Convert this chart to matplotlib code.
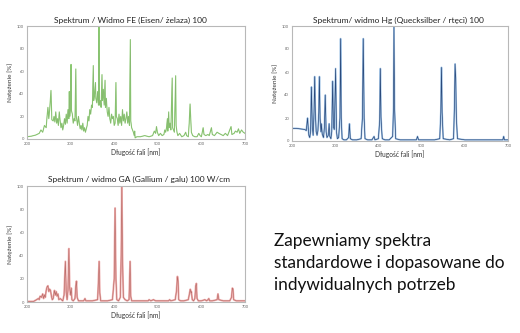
import matplotlib
matplotlib.use('Agg')
import matplotlib.pyplot as plt

plt.rcParams['font.family'] = ['Lato', 'DejaVu Sans']

W, H = 520, 333

# Fe spectrum (wavelength nm, intensity %)
fe_wl = [200, 210, 220, 228, 232, 236, 240, 244, 246, 248, 250, 252, 255, 257, 260, 262, 264, 266, 268, 270,
         272, 274, 276, 278, 280, 282, 284, 286, 288, 290, 292, 294, 296, 297, 298, 300, 301, 302, 304, 306,
         308, 310, 312, 313, 316, 318, 320, 322, 324, 326, 328, 330, 332, 334, 336, 338, 340, 342, 344, 346,
         348, 350, 352, 353, 355, 357, 358, 360, 362, 364, 365, 366, 368, 370, 372, 373, 375, 377, 379, 380,
         382, 384, 386, 388, 390, 392, 394, 396, 398, 400, 402, 404, 405, 407, 409, 411, 413, 415, 417, 419,
         421, 423, 425, 427, 429, 431, 433, 435, 437, 438, 440, 442, 444, 446, 447, 448, 452, 460, 470, 480,
         488, 492, 495, 497, 499, 502, 506, 510, 514, 516, 518, 520, 522, 523, 525, 526, 528, 530, 533, 534,
         536, 538, 541, 542, 544, 546, 550, 555, 560, 564, 566, 570, 572, 574, 575, 577, 580, 585, 590, 594,
         597, 600, 604, 606, 610, 615, 618, 623, 625, 630, 636, 640, 645, 650, 655, 660, 668, 670, 675, 678,
         682, 685, 688, 692, 696, 700]
fe_val = [2, 2.5, 3.5, 5, 8, 6, 12, 10, 20, 28, 18, 26, 43, 17, 16, 20, 15, 24, 14, 18,
          12, 24, 16, 10, 14, 8, 12, 18, 13, 22, 14, 26, 18, 42, 20, 30, 66, 25, 22, 14,
          18, 16, 62, 20, 12, 20, 14, 9, 12, 8, 14, 7, 10, 6, 9, 12, 20, 16, 26, 22,
          30, 28, 65, 34, 40, 50, 36, 32, 42, 30, 100, 30, 34, 28, 57, 34, 44, 30, 52, 28,
          36, 24, 20, 28, 18, 14, 22, 18, 20, 12, 14, 50, 20, 18, 12, 22, 14, 20, 12, 26,
          16, 22, 14, 18, 24, 14, 20, 12, 88, 16, 10, 8, 6, 3, 7, 1, 2, 2, 3, 2,
          3, 7, 5, 11, 6, 3, 5, 3, 4, 8, 6, 10, 18, 7, 24, 10, 14, 8, 54, 10,
          8, 6, 56, 12, 6, 3, 5, 2, 3, 6, 3, 2, 14, 31, 22, 6, 3, 2, 2, 5,
          3, 2, 10, 4, 3, 4, 3, 10, 4, 3, 6, 5, 4, 3, 5, 3, 11, 4, 5, 7,
          6, 9, 5, 8, 6, 5]

# Hg spectrum
hg_wl = [200, 210, 220, 230, 233, 236, 237.5, 239, 241, 243, 245, 247, 249, 251, 252.5, 254, 256, 258, 260,
         262, 263.5, 265, 267, 268, 270, 273, 275, 277, 279, 281, 284, 286, 287.5, 290, 292, 294, 296, 298,
         301, 303, 305, 308, 311, 312.5, 314, 316, 320, 326, 331, 333, 335, 340, 350, 360, 363, 365, 367,
         369, 375, 385, 390, 392, 400, 403, 404.5, 406, 407.5, 409, 415, 425, 433, 435, 436, 437.5, 440,
         450, 470, 488, 490.5, 493, 510, 530, 542, 544.5, 546, 547.5, 550, 565, 574, 576, 577.5, 579,
         580.5, 583, 600, 650, 688, 690, 691.5, 700]
hg_val = [11, 11, 10.5, 10, 9, 20, 12, 5, 3, 8, 47, 12, 5, 25, 56, 25, 8, 5, 9,
          25, 56, 20, 8, 15, 6, 3, 12, 40, 8, 3, 5, 15, 4, 2, 8, 52, 12, 10,
          63, 8, 2, 3, 20, 89, 20, 2, 1, 1, 3, 15, 2, 1, 1, 2, 20, 89, 20,
          2, 1, 1, 4, 1, 2, 18, 63, 21, 10, 2, 1, 1, 4, 30, 100, 28, 2,
          1, 1, 1, 4, 1, 1, 1, 2, 25, 64, 25, 2, 1, 2, 30, 67, 55,
          20, 2, 1, 1, 1, 4, 1, 1]

# Ga spectrum
ga_wl = [200, 215, 222, 226, 228, 230, 233, 236, 238, 240, 242, 244, 246, 248, 250, 252, 254, 256, 258, 260,
         263, 265, 267, 269, 271, 273, 276, 279, 282, 285, 288, 290, 292, 294, 296, 298, 300, 301.5, 303, 306,
         310, 312, 313.5, 315, 318, 330, 333, 335, 350, 362, 364, 365.5, 367, 369, 385, 396, 400, 402, 404,
         406, 410, 414, 416, 417.5, 419, 421, 425, 430, 434, 435, 436.5, 438, 440, 460, 478, 480, 484, 490,
         495, 510, 525, 527, 530, 540, 543, 545, 546.5, 548, 552, 560, 570, 573, 574.5, 576, 577, 579, 582,
         585, 587, 588.5, 590, 593, 600, 608, 612, 615, 617, 619, 625, 636, 638, 640, 650, 665, 669, 671,
         672.5, 674, 680, 700]
ga_val = [0.5, 0.5, 2, 3, 2, 5, 4, 7, 3, 6, 4, 10, 13, 14, 9, 11, 10, 5, 2, 3,
          10, 6, 9, 5, 7, 2, 3, 2, 1, 6, 35, 8, 2, 10, 46, 12, 6, 12, 2, 1,
          3, 14, 18, 4, 1, 1, 3, 1, 1, 2, 20, 35, 8, 1, 1, 2, 20, 81, 20,
          2, 1, 4, 40, 100, 40, 4, 2, 1, 2, 15, 35, 5, 1, 1, 1, 2, 1, 2,
          1, 1, 1, 2, 1, 2, 10, 22, 18, 2, 1, 1, 2, 8, 11, 8, 9, 2, 1,
          3, 14, 16, 3, 1, 1, 2, 1, 2, 3, 1, 1, 2, 7, 2, 1, 1, 4, 12,
          11, 2, 1, 1]

x_ticks = [200, 300, 400, 500, 600, 700]
y_ticks = [0, 20, 40, 60, 80, 100]

fig = plt.figure(figsize=(W / 100, H / 100), dpi=100)


def make_axes(left, right, top, bottom):
    ax = fig.add_axes([left / W, 1 - bottom / H, (right - left) / W, (bottom - top) / H])
    ax.set_xlim(200, 700)
    ax.set_ylim(0, 100)
    ax.set_xticks(x_ticks)
    ax.set_yticks(y_ticks)
    ax.tick_params(labelsize=3, colors='#666666', length=0, pad=2)
    for s in ax.spines.values():
        s.set_color('#b8b8b8')
        s.set_linewidth(0.8)
    ax.set_xlabel('Długość fali [nm]', fontsize=4.8, color='#333333', labelpad=2)
    ax.set_ylabel('Natężenie [%]', fontsize=4.6, color='#333333', labelpad=3)
    return ax


ax1 = make_axes(27, 245, 26, 139)
ax1.plot(fe_wl, fe_val, color='#8ccf72', lw=0.8)
ax1.plot(fe_wl, fe_val, color='#7d8a6e', lw=0.25, alpha=0.5)
fig.text(130 / W, 1 - 20 / H, 'Spektrum / Widmo FE (Eisen/ żelaza) 100', ha='center', va='center',
         fontsize=6, color='#222222')

ax2 = make_axes(292, 508, 26, 141)
ax2.plot(hg_wl, hg_val, color='#a8c8e8', lw=1.3)
ax2.plot(hg_wl, hg_val, color='#2a4a7c', lw=0.5)
fig.text(398 / W, 1 - 20 / H, 'Spektrum/ widmo Hg (Quecksilber / rtęci) 100', ha='center', va='center',
         fontsize=6, color='#222222')

ax3 = make_axes(27, 245, 186, 302)
ax3.plot(ga_wl, ga_val, color='#efb0b0', lw=1.4)
ax3.plot(ga_wl, ga_val, color='#b86a66', lw=0.45)
fig.text(139 / W, 1 - 179 / H, 'Spektrum / widmo GA (Gallium / galu) 100 W/cm', ha='center', va='center',
         fontsize=6, color='#222222')

lines = ['Zapewniamy spektra', 'standardowe i dopasowane do', 'indywidualnych potrzeb']
for i, line in enumerate(lines):
    fig.text(274 / W, 1 - (241 + 22 * i) / H, line, ha='left', va='center', fontsize=12.4, color='#111111')

fig.savefig('out.png', dpi=100)
